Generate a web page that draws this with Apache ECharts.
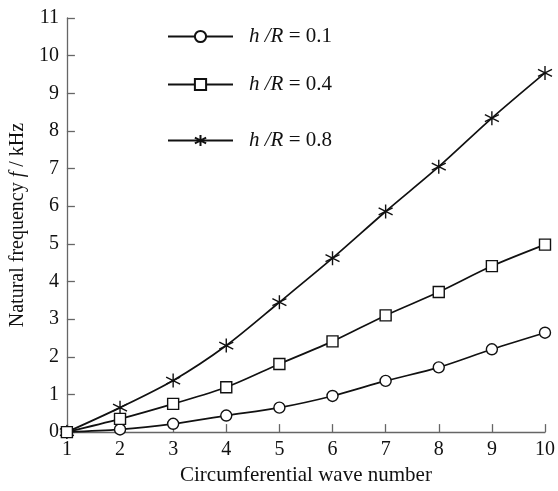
<!DOCTYPE html>
<html>
<head>
<meta charset="utf-8">
<script src="https://cdn.jsdelivr.net/npm/echarts@6/dist/echarts.min.js"></script>
<style>
  html, body { margin: 0; padding: 0; background: #fff; }
  #chart { width: 558px; height: 491px; }
</style>
</head>
<body>
<div id="chart"></div>
<script>
// 周向波数
const waveNumbers = [1, 2, 3, 4, 5, 6, 7, 8, 9, 10];
// 固有频率 kHz
const freqH01 = [0, 0.07, 0.22, 0.44, 0.65, 0.96, 1.36, 1.72, 2.2, 2.64];
const freqH04 = [0, 0.35, 0.75, 1.19, 1.81, 2.41, 3.1, 3.72, 4.41, 4.98];
const freqH08 = [0, 0.65, 1.37, 2.3, 3.45, 4.62, 5.86, 7.05, 8.34, 9.54];
const seriesNames = ['h/R=0.1', 'h/R=0.4', 'h/R=0.8'];

const font = 'Liberation Serif';
const starPath = 'path://M5,0L5,10M0.7,2.5L9.3,7.5M0.7,7.5L9.3,2.5';

const chart = echarts.init(document.getElementById('chart'));

function pairs(ys) {
  return waveNumbers.map((x, i) => [x, ys[i]]);
}

function legendAt(name, top) {
  return {
    data: [name],
    left: 162,
    top: top,
    itemWidth: 65,
    itemHeight: 14,
    itemGap: 0,
    textStyle: {
      fontFamily: font,
      fontSize: 21,
      color: '#111',
      padding: [0, 0, 0, 11],
      rich: {
        i: { fontFamily: font, fontSize: 21, fontStyle: 'italic', color: '#111' },
        n: { fontFamily: font, fontSize: 21, color: '#111' }
      }
    },
    formatter: n => {
      const v = n.split('=')[1];
      return '{i|h /R}{n| = ' + v + '}';
    }
  };
}

const lineStyle = { color: '#111', width: 1.7 };

chart.setOption({
  animation: false,
  backgroundColor: '#fff',
  grid: { left: 66, right: 10, top: 18, bottom: 53 },
  legend: [
    legendAt(seriesNames[0], 21),
    legendAt(seriesNames[1], 69),
    legendAt(seriesNames[2], 125)
  ],
  xAxis: {
    type: 'value',
    min: 1,
    max: 10,
    interval: 1,
    name: 'Circumferential wave number',
    nameLocation: 'middle',
    nameGap: 31,
    nameTextStyle: { fontFamily: font, fontSize: 21, color: '#111' },
    axisLine: { lineStyle: { color: '#666', width: 1.3 } },
    axisTick: { inside: true, length: 8, lineStyle: { color: '#666', width: 1.3 } },
    axisLabel: { fontFamily: font, fontSize: 20, color: '#111', margin: 8 },
    splitLine: { show: false }
  },
  yAxis: {
    type: 'value',
    min: 0,
    max: 11,
    interval: 1,
    name: '{n|Natural frequency }{i|f}{n| / kHz}',
    nameLocation: 'middle',
    nameGap: 37,
    nameTextStyle: {
      fontFamily: font,
      fontSize: 20,
      color: '#111',
      rich: {
        n: { fontFamily: font, fontSize: 20, color: '#111' },
        i: { fontFamily: font, fontSize: 20, fontStyle: 'italic', color: '#111' }
      }
    },
    axisLine: { lineStyle: { color: '#666', width: 1.3 } },
    axisTick: { inside: true, length: 8, lineStyle: { color: '#666', width: 1.3 } },
    axisLabel: { fontFamily: font, fontSize: 20, color: '#111', margin: 8 },
    splitLine: { show: false }
  },
  series: [
    {
      name: seriesNames[0],
      type: 'line',
      smooth: 0.3,
      data: pairs(freqH01),
      symbol: 'circle',
      symbolSize: 11,
      lineStyle: lineStyle,
      itemStyle: { color: '#fff', borderColor: '#111', borderWidth: 1.4 },
      z: 3
    },
    {
      name: seriesNames[1],
      type: 'line',
      smooth: 0.3,
      data: pairs(freqH04),
      symbol: 'rect',
      symbolSize: 11,
      lineStyle: lineStyle,
      itemStyle: { color: '#fff', borderColor: '#111', borderWidth: 1.4 },
      z: 4
    },
    {
      name: seriesNames[2],
      type: 'line',
      smooth: 0.3,
      data: pairs(freqH08),
      symbol: starPath,
      symbolSize: 14,
      lineStyle: lineStyle,
      itemStyle: { color: 'none', borderColor: '#111', borderWidth: 1.4 },
      z: 2
    }
  ]
});
</script>
</body>
</html>
